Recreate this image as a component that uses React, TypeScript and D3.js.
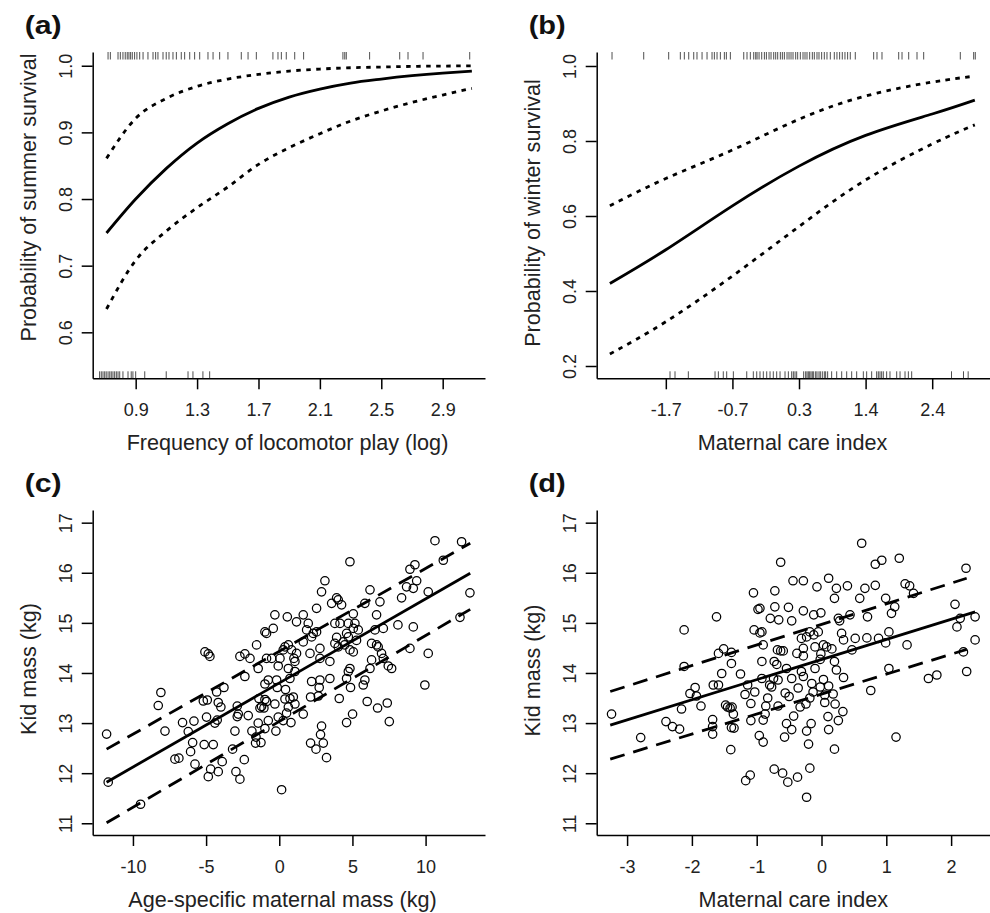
import React, { useEffect, useRef } from 'react';
import * as d3 from 'd3';

const FONT = "'Liberation Sans', Arial, Helvetica, sans-serif";

// (a) summer survival vs locomotor play
const playX = [0.71, 0.9, 1.1, 1.3, 1.5, 1.7, 1.9, 2.1, 2.3, 2.5, 2.7, 2.9, 3.09];
const playFit = [0.749, 0.8, 0.846, 0.884, 0.913, 0.936, 0.953, 0.965, 0.974, 0.98, 0.985, 0.989, 0.992];
const playUpper = [0.861, 0.921, 0.951, 0.969, 0.98, 0.987, 0.992, 0.995, 0.997, 0.998, 0.999, 0.9995, 0.9998];
const playLower = [0.635, 0.708, 0.752, 0.787, 0.818, 0.852, 0.877, 0.898, 0.917, 0.932, 0.945, 0.956, 0.966];
const playRugTop = [0.72, 0.735, 0.785, 0.8, 0.817, 0.832, 0.845, 0.856, 0.867, 0.878, 0.893, 0.908, 0.926, 0.948,
  0.98, 1.013, 1.03, 1.045, 1.078, 1.099, 1.117, 1.143, 1.165, 1.197, 1.219, 1.252, 1.284, 1.317, 1.371, 1.404,
  1.447, 1.501, 1.588, 1.632, 1.686, 1.794, 1.827, 1.849, 1.881, 1.936, 1.994, 2.25, 2.262, 2.272, 2.424, 2.62,
  2.674, 2.772, 3.076];
const playRugBottom = [0.665, 0.676, 0.687, 0.698, 0.708, 0.72, 0.731, 0.741, 0.752, 0.763, 0.774, 0.785, 0.796,
  0.817, 0.85, 0.871, 0.882, 0.9, 0.959, 1.099, 1.241, 1.273, 1.338, 1.382];
const playXTicks = [0.9, 1.3, 1.7, 2.1, 2.5, 2.9];
const playYTicks = [0.6, 0.7, 0.8, 0.9, 1.0];

// (b) winter survival vs maternal care
const careX = [-2.54, -1.7, -0.7, 0.3, 1.3, 2.3, 2.94];
const careFit = [0.42, 0.51, 0.627, 0.733, 0.815, 0.872, 0.909];
const careUpper = [0.627, 0.7, 0.776, 0.858, 0.92, 0.957, 0.973];
const careLower = [0.232, 0.318, 0.44, 0.572, 0.696, 0.792, 0.843];
const careRugTop = [-2.508, -2.032, -1.657, -1.482, -1.422, -1.356, -1.281, -1.232, -1.156, -1.081, -1.006, -0.971,
  -0.931, -0.881, -0.821, -0.791, -0.731, -0.53, -0.481, -0.431, -0.38, -0.35, -0.33, -0.3, -0.26, -0.22, -0.19,
  -0.15, -0.12, -0.08, -0.05, -0.02, 0.02, 0.05, 0.08, 0.12, 0.15, 0.18, 0.21, 0.25, 0.28, 0.32, 0.36, 0.39, 0.42,
  0.46, 0.5, 0.53, 0.57, 0.6, 0.64, 0.68, 0.72, 0.77, 0.83, 0.87, 0.91, 0.95, 0.99, 1.03, 1.07, 1.145, 1.421, 1.471,
  1.546, 1.797, 1.847, 1.947, 2.072, 2.172, 2.722, 2.923, 2.947];
const careRugBottom = [-1.637, -1.562, -1.362, -0.961, -0.911, -0.837, -0.786, -0.686, -0.485, -0.386, -0.335,
  -0.286, -0.236, -0.185, -0.135, -0.086, -0.035, 0.015, 0.09, 0.14, 0.19, 0.215, 0.24, 0.265, 0.37, 0.4, 0.42,
  0.44, 0.46, 0.48, 0.5, 0.52, 0.55, 0.57, 0.6, 0.62, 0.65, 0.68, 0.7, 0.73, 0.79, 0.866, 0.941, 1.016, 1.091,
  1.166, 1.266, 1.316, 1.391, 1.466, 1.491, 1.516, 1.541, 1.566, 1.616, 1.666, 1.767, 1.817, 1.892, 1.942, 1.992,
  2.59, 2.77, 2.84];
const careXTicks = [-1.7, -0.7, 0.3, 1.3, 2.3];
const careXTickLabels = ['-1.7', '-0.7', '0.3', '1.4', '2.4'];
const careYTicks = [0.2, 0.4, 0.6, 0.8, 1.0];

// (c) kid mass vs maternal mass
const massLineX = [-11.8, 13.05];
const massFit = [11.82, 15.99];
const massUpper = [12.48, 16.59];
const massLower = [11.01, 15.27];
const massPoints: [number, number][] = [
  [10.64, 16.64], [12.46, 16.62], [11.21, 16.25], [4.83, 16.22], [8.93, 16.07], [9.27, 16.16], [3.12, 15.84],
  [9.39, 15.84], [8.7, 15.72], [9.16, 15.69], [10.18, 15.62], [13.03, 15.6], [6.2, 15.66], [2.89, 15.62],
  [3.92, 15.5], [4.03, 15.46], [3.58, 15.39], [4.26, 15.36], [6.88, 15.42], [5.85, 15.39], [2.55, 15.29],
  [8.36, 15.5], [12.35, 15.11], [8.11, 14.96], [9.16, 14.92], [6.65, 15.16], [5.06, 15.18], [1.64, 15.16],
  [-0.3, 15.16], [0.55, 15.12], [1.18, 15.02], [1.98, 14.99], [3.8, 14.99], [4.15, 14.99], [4.72, 14.99],
  [5.17, 14.99], [6.54, 14.86], [7.11, 14.89], [5.06, 14.89], [5.4, 14.86], [-0.41, 14.89], [-0.87, 14.79],
  [-0.98, 14.82], [1.87, 14.86], [2.32, 14.79], [2.55, 14.82], [2.21, 14.72], [4.6, 14.79], [4.72, 14.72],
  [3.92, 14.71], [4.37, 14.62], [-1.55, 14.56], [1.64, 14.62], [3.8, 14.59], [4.03, 14.52], [4.47, 14.56],
  [4.83, 14.46], [5.06, 14.42], [5.28, 14.65], [6.31, 14.59], [6.76, 14.52], [6.65, 14.56], [8.93, 14.49],
  [10.18, 14.39], [0.39, 14.52], [0.62, 14.56], [0.27, 14.46], [0.84, 14.46], [1.18, 14.39], [2.78, 14.49],
  [2.1, 14.39], [2.78, 14.29], [6.99, 14.39], [7.11, 14.29], [6.31, 14.26], [-5.08, 14.42], [-4.85, 14.38],
  [-4.74, 14.33], [-2.69, 14.33], [-2.35, 14.38], [-2.0, 14.29], [-0.87, 14.29], [-0.52, 14.29], [0.05, 14.29],
  [1.0, 14.29], [1.07, 14.23], [-0.07, 14.14], [0.62, 14.09], [1.07, 14.03], [3.46, 14.23], [7.45, 14.14],
  [7.68, 14.09], [4.83, 14.09], [4.72, 14.03], [6.2, 14.09], [-1.44, 14.09], [-2.35, 13.93], [-0.75, 13.86],
  [-0.18, 13.86], [0.73, 13.89], [2.21, 13.83], [2.78, 13.86], [3.46, 13.89], [4.6, 13.89], [5.85, 13.86],
  [-11.8, 12.78], [-8.27, 13.35], [-8.09, 13.61], [-7.81, 12.84], [-7.13, 12.28], [-6.86, 12.3], [-11.69, 11.82],
  [-9.48, 11.38], [-6.61, 13.01], [-6.22, 12.83], [-5.83, 13.04], [-6.06, 12.43], [-5.92, 12.61], [-5.76, 12.18],
  [-5.19, 13.44], [-4.92, 13.46], [-4.97, 13.12], [-5.13, 12.57], [-4.85, 11.93], [-4.51, 12.57], [-4.69, 12.08],
  [-4.28, 13.62], [-4.17, 13.41], [-3.99, 13.32], [-4.4, 13.0], [-4.24, 13.06], [-3.78, 13.71], [-4.17, 12.03],
  [-3.9, 12.23], [-3.19, 12.48], [-3.03, 12.84], [-2.96, 12.03], [-2.69, 11.88], [-2.87, 13.34], [-2.8, 13.18],
  [-2.87, 13.13], [-2.39, 12.27], [-2.12, 13.15], [-1.87, 12.84], [-1.59, 12.72], [-1.62, 12.6], [-1.25, 12.61],
  [-1.44, 13.0], [-1.32, 13.3], [-1.39, 13.49], [-1.21, 13.33], [-0.98, 13.47], [-0.87, 13.43], [-1.05, 13.3],
  [-0.98, 12.89], [-0.75, 13.05], [-0.98, 13.78], [-0.3, 13.38], [-0.23, 12.84], [-0.07, 13.12], [-0.14, 13.71],
  [0.16, 11.67], [0.39, 13.48], [0.43, 13.67], [0.27, 13.05], [0.62, 13.32], [0.5, 13.2], [0.8, 13.01],
  [0.73, 13.49], [0.96, 13.52], [1.07, 13.38], [1.64, 13.18], [2.14, 12.6], [2.51, 12.48], [2.14, 13.52],
  [2.67, 13.54], [2.73, 13.71], [2.82, 12.77], [2.89, 12.94], [3.01, 12.6], [3.23, 12.31], [4.1, 13.49],
  [4.6, 13.01], [4.87, 13.71], [5.01, 13.18], [5.74, 13.76], [6.01, 13.43], [6.72, 13.3], [7.38, 13.4],
  [7.52, 13.03], [9.95, 13.76],
];
const massXTicks = [-10, -5, 0, 5, 10];
const kidYTicks = [11, 12, 13, 14, 15, 16, 17];

// (d) kid mass vs maternal care
const kidCareLineX = [-3.26, 2.37];
const kidCareFit = [12.96, 15.22];
const kidCareBandX = [-3.26, 2.24];
const kidCareUpper = [13.63, 15.89];
const kidCareLower = [12.28, 14.47];
const kidCarePoints: [number, number][] = [
  [0.62, 16.59], [-0.63, 16.21], [0.83, 16.17], [0.93, 16.25], [1.2, 16.29], [2.23, 16.09], [-0.44, 15.84],
  [-0.28, 15.84], [0.11, 15.89], [1.29, 15.78], [1.36, 15.74], [0.4, 15.74], [0.83, 15.75], [-1.05, 15.6],
  [-0.72, 15.64], [-0.07, 15.72], [0.23, 15.69], [0.67, 15.69], [1.42, 15.59], [0.2, 15.49], [0.59, 15.49],
  [0.99, 15.49], [-1.62, 15.12], [-0.98, 15.27], [-0.95, 15.29], [-0.72, 15.32], [-0.51, 15.31], [-0.28, 15.24],
  [-0.12, 15.16], [-0.01, 15.2], [0.26, 15.09], [0.28, 15.04], [0.44, 15.16], [0.71, 15.12], [1.08, 15.19],
  [1.13, 15.32], [2.14, 15.09], [2.09, 14.92], [2.37, 15.12], [2.06, 15.37], [-0.79, 15.09], [-0.66, 15.06],
  [-0.46, 15.04], [-2.12, 14.86], [-1.04, 14.86], [-0.92, 14.82], [-0.95, 14.8], [-0.31, 14.69], [-0.23, 14.72],
  [-0.12, 14.76], [-0.18, 14.82], [-0.05, 14.82], [0.31, 14.79], [0.34, 14.66], [0.52, 14.69], [0.7, 14.7],
  [0.88, 14.69], [0.99, 14.6], [1.04, 14.82], [1.32, 14.56], [2.37, 14.66], [-0.9, 14.56], [-0.68, 14.46],
  [-0.63, 14.44], [-0.59, 14.44], [-0.28, 14.49], [-0.1, 14.52], [0.03, 14.56], [0.08, 14.52], [0.16, 14.48],
  [0.47, 14.46], [-0.28, 14.34], [-0.01, 14.38], [-0.38, 14.39], [-1.59, 14.39], [-1.51, 14.48], [-1.39, 14.41],
  [2.19, 14.42], [-2.12, 14.13], [-1.39, 14.19], [-0.92, 14.23], [-0.73, 14.23], [-0.69, 14.17], [-0.54, 14.09],
  [-0.02, 14.27], [-0.1, 14.09], [0.2, 14.23], [0.23, 14.06], [1.04, 14.09], [2.24, 14.03], [-1.54, 13.99],
  [-1.25, 13.98], [1.65, 13.89], [1.78, 13.96], [-0.31, 14.03], [-0.28, 13.93], [-0.46, 13.89], [0.03, 13.87],
  [0.34, 13.91], [-0.74, 13.89], [-0.67, 13.86], [-0.92, 13.89],
  [-3.24, 13.18], [-2.79, 12.71], [-2.4, 13.03], [-2.3, 12.93], [-2.19, 12.88], [-2.16, 13.28], [-2.03, 13.59],
  [-1.95, 13.71], [-1.93, 13.54], [-1.86, 13.34], [-1.67, 13.76], [-1.59, 13.76], [-1.68, 13.07], [-1.68, 12.93],
  [-1.68, 12.78], [-1.48, 13.36], [-1.45, 13.32], [-1.41, 13.3], [-1.38, 13.32], [-1.36, 13.18], [-1.39, 12.91],
  [-1.35, 12.9], [-1.4, 12.47], [-1.18, 13.57], [-1.14, 13.76], [-1.09, 13.39], [-1.09, 13.05], [-1.03, 13.62],
  [-1.1, 11.96], [-1.17, 11.85], [-0.96, 12.75], [-0.9, 13.06], [-0.9, 12.62], [-0.87, 13.18], [-0.86, 13.34],
  [-0.83, 13.5], [-0.8, 13.76], [-0.77, 13.72], [-0.73, 12.08], [-0.67, 13.34], [-0.6, 12.0], [-0.52, 11.82],
  [-0.57, 12.72], [-0.56, 13.6], [-0.54, 12.99], [-0.5, 13.53], [-0.46, 12.87], [-0.43, 13.14], [-0.37, 11.92],
  [-0.36, 13.7], [-0.33, 13.32], [-0.23, 11.52], [-0.23, 12.84], [-0.2, 12.58], [-0.18, 12.1], [-0.16, 12.99],
  [-0.24, 13.38], [-0.18, 13.5], [-0.13, 13.62], [-0.15, 13.79], [-0.02, 13.72], [0.05, 13.56], [0.05, 13.41],
  [0.11, 13.74], [0.1, 13.13], [0.11, 12.87], [0.18, 13.58], [0.21, 13.38], [0.2, 12.48], [0.26, 13.05],
  [0.33, 13.23], [0.76, 13.65], [1.15, 12.72],
];
const kidCareXTicks = [-3, -2, -1, 0, 1, 2];

const App = () => {
  const ref = useRef<SVGSVGElement>(null);

  useEffect(() => {
    const svg = d3.select(ref.current);
    svg.selectAll('*').remove();

    const panel = (opt: any) => {
      const x = d3.scaleLinear().domain(opt.xlim).range([opt.left, opt.right]);
      const y = d3.scaleLinear().domain(opt.ylim).range([opt.bottom, opt.top]);
      const g = svg.append('g');

      const xAxis = d3.axisBottom(x).tickValues(opt.xTicks).tickSize(11).tickSizeOuter(0)
        .tickFormat((d: any, i: number) => (opt.xLabels ? opt.xLabels[i] : String(d)));
      const xg = g.append('g').attr('transform', `translate(0,${opt.bottom})`).call(xAxis);
      const yAxis = d3.axisLeft(y).tickValues(opt.yTicks).tickSize(11).tickSizeOuter(0)
        .tickFormat((d: any) => (opt.yFmt ? opt.yFmt(d) : String(d)));
      const yg = g.append('g').attr('transform', `translate(${opt.left},0)`).call(yAxis);

      [xg, yg].forEach(a => {
        a.attr('font-family', FONT).attr('font-size', 18);
        a.selectAll('path, line').attr('stroke', '#000').attr('stroke-width', 1.5);
        a.selectAll('text').attr('fill', '#222');
      });
      xg.selectAll('text').attr('y', 38).attr('dy', null);
      yg.selectAll('text').attr('x', null).attr('dy', null)
        .attr('text-anchor', 'middle').attr('transform', 'translate(-21,0) rotate(-90)');

      // axis titles and panel letter
      g.append('text').attr('x', opt.xTitleX).attr('y', opt.bottom + 72)
        .attr('text-anchor', 'middle').attr('font-family', FONT).attr('font-size', 21.6).attr('fill', '#222')
        .text(opt.xTitle);
      g.append('text').attr('transform', `translate(${opt.left - 57},${opt.yTitleY}) rotate(-90)`)
        .attr('text-anchor', 'middle').attr('font-family', FONT).attr('font-size', 21.6).attr('fill', '#222')
        .text(opt.yTitle);
      g.append('text').attr('x', opt.left - 68).attr('y', opt.top - 18.5)
        .attr('font-family', FONT).attr('font-weight', 'bold').attr('font-size', 25)
        .attr('textLength', 37).attr('lengthAdjust', 'spacingAndGlyphs').attr('fill', '#111')
        .text(opt.letter);

      return { g, x, y };
    };

    const rugs = (p: any, top: number[], bottom: number[]) => {
      const [b, t] = p.y.range();
      p.g.append('g').selectAll('line').data(top).enter().append('line')
        .attr('x1', (d: number) => p.x(d)).attr('x2', (d: number) => p.x(d))
        .attr('y1', t).attr('y2', t + 7.5).attr('stroke', '#222').attr('stroke-width', 0.8);
      p.g.append('g').selectAll('line').data(bottom).enter().append('line')
        .attr('x1', (d: number) => p.x(d)).attr('x2', (d: number) => p.x(d))
        .attr('y1', b - 7).attr('y2', b).attr('stroke', '#222').attr('stroke-width', 0.8);
    };

    const curve = (p: any, xs: number[], ys: number[], dash: string | null, shape: any = d3.curveMonotoneX) => {
      const line = d3.line<number>().x((d, i) => p.x(xs[i])).y(d => p.y(d)).curve(shape);
      p.g.append('path').attr('d', line(ys)).attr('fill', 'none').attr('stroke', '#000')
        .attr('stroke-width', 2.8).attr('stroke-dasharray', dash);
    };

    const points = (p: any, pts: [number, number][]) => {
      p.g.append('g').selectAll('circle').data(pts).enter().append('circle')
        .attr('cx', (d: [number, number]) => p.x(d[0])).attr('cy', (d: [number, number]) => p.y(d[1]))
        .attr('r', 4.2).attr('fill', 'none').attr('stroke', '#000').attr('stroke-width', 1.25);
    };

    const oneDec = (d: number) => d.toFixed(1);
    const DOT = '4.5 5.5';
    const DASH = '15 9';

    // (a)
    const pa = panel({
      left: 92.7, right: 485, top: 52, bottom: 378.3, xlim: [0.62, 3.1756], ylim: [0.531, 1.0206],
      xTicks: playXTicks, yTicks: playYTicks, yFmt: oneDec, xTitle: 'Frequency of locomotor play (log)',
      xTitleX: 287.5, yTitle: 'Probability of summer survival', yTitleY: 197.5, letter: '(a)',
    });
    rugs(pa, playRugTop, playRugBottom);
    curve(pa, playX, playUpper, DOT);
    curve(pa, playX, playLower, DOT);
    curve(pa, playX, playFit, null);

    // (b)
    const pb = panel({
      left: 596.7, right: 990, top: 52, bottom: 378.3, xlim: [-2.738, 3.168], ylim: [0.1672, 1.0373],
      xTicks: careXTicks, xLabels: careXTickLabels, yTicks: careYTicks, yFmt: oneDec,
      xTitle: 'Maternal care index', xTitleX: 792.5, yTitle: 'Probability of winter survival', yTitleY: 213,
      letter: '(b)',
    });
    rugs(pb, careRugTop, careRugBottom);
    curve(pb, careX, careUpper, DOT, d3.curveNatural);
    curve(pb, careX, careLower, DOT, d3.curveNatural);
    curve(pb, careX, careFit, null, d3.curveNatural);

    // (c)
    const pc = panel({
      left: 92.7, right: 485, top: 510, bottom: 835, xlim: [-12.75, 14.06], ylim: [10.766, 17.253],
      xTicks: massXTicks, yTicks: kidYTicks, xTitle: 'Age-specific maternal mass (kg)', xTitleX: 282.5,
      yTitle: 'Kid mass (kg)', yTitleY: 669, letter: '(c)',
    });
    points(pc, massPoints);
    curve(pc, massLineX, massUpper, DASH);
    curve(pc, massLineX, massLower, DASH);
    curve(pc, massLineX, massFit, null);

    // (d)
    const pd = panel({
      left: 596.7, right: 990, top: 510, bottom: 835, xlim: [-3.469, 2.6], ylim: [10.766, 17.253],
      xTicks: kidCareXTicks, yTicks: kidYTicks, xTitle: 'Maternal care index', xTitleX: 793.3,
      yTitle: 'Kid mass (kg)', yTitleY: 670.5, letter: '(d)',
    });
    points(pd, kidCarePoints);
    curve(pd, kidCareBandX, kidCareUpper, DASH);
    curve(pd, kidCareBandX, kidCareLower, DASH);
    curve(pd, kidCareLineX, kidCareFit, null);
  }, []);

  return (
    <svg ref={ref} width={990} height={913}
      style={{ position: 'absolute', left: 0, top: 0, background: '#fff', display: 'block' }} />
  );
};

export default App;
